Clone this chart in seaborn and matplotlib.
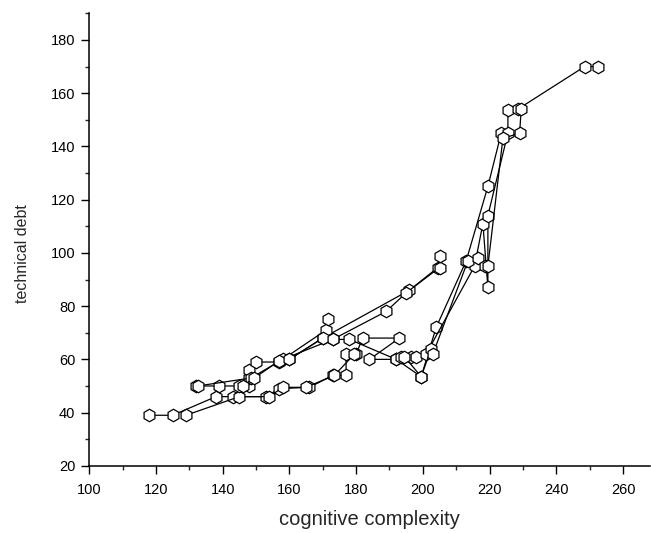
import pandas as pd
import matplotlib.pyplot as plt
import seaborn as sns
from matplotlib.ticker import AutoMinorLocator

# each run is one connected trace in the original chart
run1_x = [118, 125, 138, 143, 153, 157, 166, 173, 177, 177, 180, 182, 193, 184, 192, 199.5, 204, 213, 219.5, 223.5]
run1_y = [39, 39, 46, 46, 46, 49, 49.5, 54, 54, 62, 62, 68, 68, 60, 60, 53.5, 72, 97, 125, 145]

run2_x = [129, 145, 154, 158, 165, 173.5, 179.5]
run2_y = [39, 46, 46, 49.5, 49.5, 54, 62]

run3_x = [132, 139, 145, 148, 148, 148, 150, 157, 160, 170, 196, 204.5]
run3_y = [50, 50, 50, 50, 53, 56, 59, 59, 60, 68, 86, 94.5]

run4_x = [132.5, 148.5, 158, 171, 171.5]
run4_y = [50, 53, 60, 71, 75]

run5_x = [146, 149.5, 157, 173, 189, 195, 205, 205]
run5_y = [50, 53, 59.5, 67.5, 78, 85, 94.5, 99]

run6_x = [160, 170, 173, 178, 192, 193.5, 196.5, 198, 201, 215.5, 218, 219.5, 219.5, 225.5, 225.5, 228.5, 248.5, 252.5]
run6_y = [60, 68, 67.5, 67.5, 60, 61, 61, 61, 62, 95, 111, 87, 114, 145, 153.5, 154, 170, 170]

run7_x = [194.5, 199.5, 202.5, 203, 213.5, 216.5, 218.5, 219.5, 224, 229, 229.5]
run7_y = [61, 53.5, 64, 62, 97, 98, 95, 95, 143, 145, 154]

runs = [(run1_x, run1_y), (run2_x, run2_y), (run3_x, run3_y), (run4_x, run4_y),
        (run5_x, run5_y), (run6_x, run6_y), (run7_x, run7_y)]

frames = []
for i, (xs, ys) in enumerate(runs):
    frames.append(pd.DataFrame({'cognitive complexity': xs, 'technical debt': ys, 'run': i}))
df = pd.concat(frames, ignore_index=True)

sns.set_style("ticks")
plt.rcParams['font.family'] = ['Liberation Sans', 'DejaVu Sans']

fig = plt.figure(figsize=(6.51, 5.33), dpi=100)
ax = fig.add_axes([0.137, 0.126, 0.861, 0.849])

sns.lineplot(data=df, x='cognitive complexity', y='technical debt', units='run',
             estimator=None, sort=False, color='black', linewidth=0.9,
             marker='h', markersize=9, markerfacecolor='white',
             markeredgecolor='black', markeredgewidth=0.9, legend=False, ax=ax)

ax.set_xlim(100, 268)
ax.set_ylim(20, 190)
ax.set_xticks(range(100, 261, 20))
ax.set_yticks(range(20, 181, 20))
ax.xaxis.set_minor_locator(AutoMinorLocator(2))
ax.yaxis.set_minor_locator(AutoMinorLocator(2))

ax.tick_params(which='major', direction='out', length=6, width=1, labelsize=10.5, colors='black')
ax.tick_params(which='minor', direction='out', length=3, width=1)
ax.tick_params(axis='x', pad=6.5)
ax.tick_params(axis='y', pad=4)

for side in ['top', 'right']:
    ax.spines[side].set_visible(False)
for side in ['left', 'bottom']:
    ax.spines[side].set_linewidth(1.1)
    ax.spines[side].set_color('black')

ax.set_xlabel('cognitive complexity', fontsize=14.5, labelpad=9)
ax.set_ylabel('technical debt', fontsize=11.5, labelpad=10)
ax.yaxis.set_label_coords(-0.105, 0.47)

fig.savefig('out.png', dpi=100)
plt.close(fig)
